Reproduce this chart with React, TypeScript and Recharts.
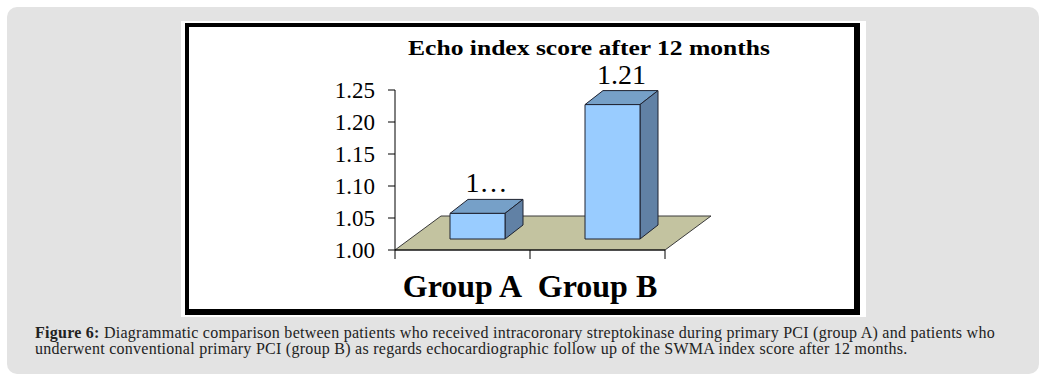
import React from 'react';
import { BarChart, Bar, XAxis, YAxis, ReferenceArea, LabelList } from 'recharts';

// ---- data ----
const groups = ['Group A', 'Group B'];
const scores = [1.04, 1.21];
const valueLabels = ['1…', '1.21'];
const yTicks = [1.0, 1.05, 1.1, 1.15, 1.2, 1.25];
const chartTitle = 'Echo index score after 12 months';
const captionBold = 'Figure 6:';
const captionLine1 =
  ' Diagrammatic comparison between patients who received intracoronary streptokinase during primary PCI (group A) and patients who';
const captionLine2 =
  'underwent conventional primary PCI (group B) as regards echocardiographic follow up of the SWMA index score after 12 months.';

const data = groups.map((g, i) => ({ group: g, score: scores[i], label: valueLabels[i] }));

// ---- 3D styling constants ----
const FLOOR_DX = 46;
const FLOOR_DY = -34;
const BAR_OX = 15;
const BAR_OY = -11;
const BAR_DX = 18;
const BAR_DY = -14;
const SERIF = "'Liberation Serif', 'Times New Roman', serif";

const Bar3D = (props: any) => {
  const { x, y, width, height } = props;
  if (x == null || y == null) return null;
  const fx = x + BAR_OX;
  const fy = y + BAR_OY;
  const right = fx + width;
  const bottom = fy + height;
  return (
    <g stroke="#1e2230" strokeWidth={1} strokeLinejoin="round">
      <polygon
        points={`${fx},${fy} ${fx + BAR_DX},${fy + BAR_DY} ${right + BAR_DX},${fy + BAR_DY} ${right},${fy}`}
        fill="#76a0c8"
      />
      <polygon
        points={`${right},${fy} ${right + BAR_DX},${fy + BAR_DY} ${right + BAR_DX},${bottom + BAR_DY} ${right},${bottom}`}
        fill="#6181a5"
      />
      <rect x={fx} y={fy} width={width} height={height} fill="#99ccff" />
    </g>
  );
};

const Floor = (props: any) => {
  const { x, y, width, height } = props;
  if (x == null || y == null) return null;
  const by = y + height;
  const r = x + width;
  const ticks = Array.from({ length: groups.length + 1 }, (_, i) => x + (width * i) / groups.length);
  return (
    <g>
      <polygon
        points={`${x},${by} ${x + FLOOR_DX},${by + FLOOR_DY} ${r + FLOOR_DX},${by + FLOOR_DY} ${r},${by}`}
        fill="#c3c3a0"
        stroke="#3a3a3a"
        strokeWidth={1}
      />
      <line x1={x} y1={by} x2={r} y2={by} stroke="#000" strokeWidth={1} />
      {ticks.map((tx, i) => (
        <line key={i} x1={tx} y1={by} x2={tx} y2={by + 9} stroke="#000" strokeWidth={1} />
      ))}
    </g>
  );
};

const ValueLabel = (props: any) => {
  const { x, y, width, value } = props;
  if (x == null || y == null) return null;
  return (
    <text
      x={x + BAR_OX + (width + BAR_DX) / 2}
      y={y + BAR_OY + BAR_DY - 7}
      textAnchor="middle"
      fontFamily={SERIF}
      fontSize={28}
      fill="#000"
    >
      {value}
    </text>
  );
};

const GroupTick = (props: any) => {
  const { x, y, payload } = props;
  return (
    <text
      x={x}
      y={y}
      dy={23}
      textAnchor="middle"
      fontFamily={SERIF}
      fontWeight="bold"
      fontSize={32}
      fill="#000"
    >
      {payload.value}
    </text>
  );
};

export default function App() {
  return (
    <div style={{ position: 'absolute', left: 0, top: 0, width: 1046, height: 382, background: '#fff' }}>
      {/* grey panel */}
      <div
        style={{
          position: 'absolute',
          left: 7,
          top: 7,
          width: 1032,
          height: 367,
          background: '#e3e3e3',
          borderRadius: 10,
        }}
      />
      {/* white frame */}
      <div style={{ position: 'absolute', left: 181, top: 21, width: 685, height: 296, background: '#fff' }} />
      <div
        style={{
          position: 'absolute',
          left: 185,
          top: 23,
          width: 675,
          height: 292,
          boxSizing: 'border-box',
          borderStyle: 'solid',
          borderColor: '#000',
          borderWidth: '4px 6px 6px 4px',
          background: '#fff',
        }}
      />
      {/* title */}
      <svg style={{ position: 'absolute', left: 398, top: 29 }} width={390} height={36}>
        <text
          x={10}
          y={26}
          textLength={362}
          lengthAdjust="spacingAndGlyphs"
          fontFamily={SERIF}
          fontWeight="bold"
          fontSize={21}
          fill="#000"
        >
          {chartTitle}
        </text>
      </svg>
      {/* chart */}
      <div style={{ position: 'absolute', left: 189, top: 27 }}>
        <BarChart
          width={665}
          height={282}
          data={data}
          margin={{ top: 63, right: 189, bottom: 9, left: 146 }}
        >
          <ReferenceArea y1={yTicks[0]} y2={yTicks[yTicks.length - 1]} shape={<Floor />} ifOverflow="visible" />
          <XAxis
            dataKey="group"
            height={50}
            axisLine={false}
            tickLine={false}
            tickSize={0}
            tickMargin={24}
            tick={<GroupTick />}
            interval={0}
          />
          <YAxis
            width={60}
            domain={[yTicks[0], yTicks[yTicks.length - 1]]}
            ticks={yTicks}
            tickFormatter={(v: number) => v.toFixed(2)}
            axisLine={{ stroke: '#000' }}
            tickLine={{ stroke: '#000' }}
            tickSize={7}
            tickMargin={13}
            tick={{ fill: '#000', fontSize: 23, fontFamily: SERIF }}
            interval={0}
          />
          <Bar dataKey="score" barSize={55} shape={<Bar3D />} isAnimationActive={false}>
            <LabelList dataKey="label" content={<ValueLabel />} />
          </Bar>
        </BarChart>
      </div>
      {/* caption */}
      <div
        style={{
          position: 'absolute',
          left: 35,
          top: 325,
          whiteSpace: 'nowrap',
          fontFamily: SERIF,
          fontSize: 16,
          lineHeight: '16px',
          letterSpacing: '0.26px',
          color: '#222',
        }}
      >
        <div>
          <b>{captionBold}</b>
          {captionLine1}
        </div>
        <div>{captionLine2}</div>
      </div>
    </div>
  );
}
